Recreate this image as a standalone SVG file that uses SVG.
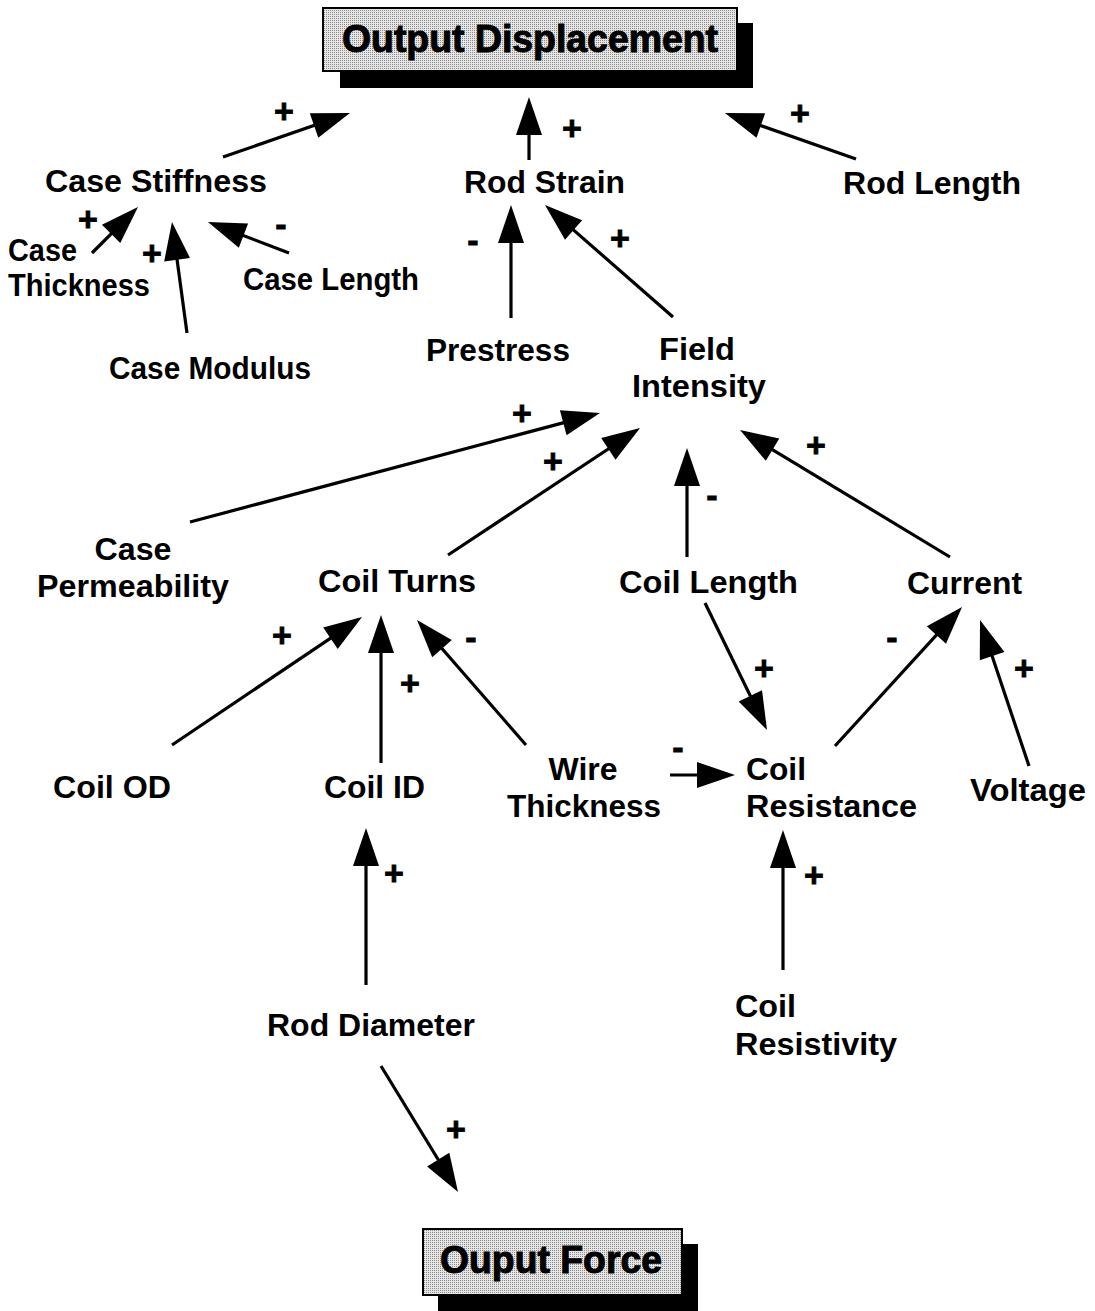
<svg xmlns="http://www.w3.org/2000/svg" width="1095" height="1311" viewBox="0 0 1095 1311">
<style>
.lbl{font-family:"Liberation Sans",Arial,sans-serif;font-weight:bold;font-size:31px;fill:#000}
.ttl{font-family:"Liberation Sans",Arial,sans-serif;font-weight:bold;font-size:38px;fill:#000;stroke:#000;stroke-width:1;text-anchor:middle}
.sg{font-family:"Liberation Sans",Arial,sans-serif;font-weight:bold;font-size:34px;fill:#000;stroke:#000;stroke-width:0.8;text-anchor:middle}
.c{text-anchor:middle}
.ln{stroke:#000;stroke-width:3.2;fill:none;marker-end:url(#ah)}
.box{fill:url(#ht);stroke:#000;stroke-width:2}
</style>
<defs>
<pattern id="ht" width="2" height="2" patternUnits="userSpaceOnUse">
<rect width="2" height="2" fill="#e6e6e6"/>
<rect width="1" height="1" fill="#8a8a8a"/>
</pattern>
<marker id="ah" markerUnits="userSpaceOnUse" markerWidth="38" markerHeight="26" refX="28" refY="13" orient="auto" overflow="visible">
<path d="M0,0 L38,13 L0,26 z" fill="#000"/>
</marker>
</defs>
<rect width="1095" height="1311" fill="#fff"/>

<g id="node-output-displacement">
<rect x="340" y="23" width="413" height="65" fill="#000"/>
<rect class="box" x="323" y="8" width="414" height="63"/>
<text class="ttl" x="530" y="52" textLength="376" lengthAdjust="spacingAndGlyphs">Output Displacement</text>
</g>
<g id="node-case-stiffness"><text class="lbl" x="45" y="192" textLength="222" lengthAdjust="spacingAndGlyphs">Case Stiffness</text></g>
<g id="node-rod-strain"><text class="lbl" x="464" y="193" textLength="161" lengthAdjust="spacingAndGlyphs">Rod Strain</text></g>
<g id="node-rod-length"><text class="lbl" x="843" y="194" textLength="178" lengthAdjust="spacingAndGlyphs">Rod Length</text></g>
<g id="node-case-thickness"><text class="lbl" x="8" y="261" textLength="69" lengthAdjust="spacingAndGlyphs">Case</text><text class="lbl" x="8" y="296" textLength="142" lengthAdjust="spacingAndGlyphs">Thickness</text></g>
<g id="node-case-length"><text class="lbl" x="243" y="290" textLength="176" lengthAdjust="spacingAndGlyphs">Case Length</text></g>
<g id="node-case-modulus"><text class="lbl" x="109" y="379" textLength="202" lengthAdjust="spacingAndGlyphs">Case Modulus</text></g>
<g id="node-prestress"><text class="lbl" x="426" y="361" textLength="144" lengthAdjust="spacingAndGlyphs">Prestress</text></g>
<g id="node-field-intensity"><text class="lbl c" x="697" y="360" textLength="76" lengthAdjust="spacingAndGlyphs">Field</text><text class="lbl c" x="699" y="397" textLength="134" lengthAdjust="spacingAndGlyphs">Intensity</text></g>
<g id="node-case-permeability"><text class="lbl c" x="133" y="560" textLength="77" lengthAdjust="spacingAndGlyphs">Case</text><text class="lbl c" x="133" y="597" textLength="192" lengthAdjust="spacingAndGlyphs">Permeability</text></g>
<g id="node-coil-turns"><text class="lbl" x="318" y="592" textLength="158" lengthAdjust="spacingAndGlyphs">Coil Turns</text></g>
<g id="node-coil-length"><text class="lbl" x="619" y="593" textLength="179" lengthAdjust="spacingAndGlyphs">Coil Length</text></g>
<g id="node-current"><text class="lbl" x="907" y="594" textLength="115" lengthAdjust="spacingAndGlyphs">Current</text></g>
<g id="node-coil-od"><text class="lbl" x="53" y="798" textLength="118" lengthAdjust="spacingAndGlyphs">Coil OD</text></g>
<g id="node-coil-id"><text class="lbl" x="324" y="798" textLength="101" lengthAdjust="spacingAndGlyphs">Coil ID</text></g>
<g id="node-wire-thickness"><text class="lbl c" x="583" y="780" textLength="69" lengthAdjust="spacingAndGlyphs">Wire</text><text class="lbl c" x="584" y="817" textLength="154" lengthAdjust="spacingAndGlyphs">Thickness</text></g>
<g id="node-coil-resistance"><text class="lbl" x="746" y="780" textLength="60" lengthAdjust="spacingAndGlyphs">Coil</text><text class="lbl" x="746" y="817" textLength="171" lengthAdjust="spacingAndGlyphs">Resistance</text></g>
<g id="node-voltage"><text class="lbl" x="970" y="801" textLength="116" lengthAdjust="spacingAndGlyphs">Voltage</text></g>
<g id="node-rod-diameter"><text class="lbl" x="267" y="1036" textLength="208" lengthAdjust="spacingAndGlyphs">Rod Diameter</text></g>
<g id="node-coil-resistivity"><text class="lbl" x="735" y="1017" textLength="61" lengthAdjust="spacingAndGlyphs">Coil</text><text class="lbl" x="735" y="1055" textLength="162" lengthAdjust="spacingAndGlyphs">Resistivity</text></g>
<g id="node-output-force">
<rect x="438" y="1244" width="260" height="67" fill="#000"/>
<rect class="box" x="423" y="1229" width="259" height="66"/>
<text class="ttl" x="551" y="1273" textLength="222" lengthAdjust="spacingAndGlyphs">Ouput Force</text>
</g>

<g id="connectors">
<line class="ln" x1="223" y1="157" x2="340.5" y2="116.3"/>
<line class="ln" x1="529" y1="160" x2="529" y2="107"/>
<line class="ln" x1="856" y1="159" x2="734.4" y2="116.3"/>
<line class="ln" x1="92" y1="253" x2="130.9" y2="214.1"/>
<line class="ln" x1="187" y1="333" x2="173.3" y2="231.9"/>
<line class="ln" x1="289" y1="253" x2="217.3" y2="225.6"/>
<line class="ln" x1="511" y1="318" x2="511" y2="215"/>
<line class="ln" x1="673" y1="317" x2="552.5" y2="211.6"/>
<line class="ln" x1="190" y1="522" x2="590.3" y2="415.6"/>
<line class="ln" x1="448" y1="555" x2="631.7" y2="433.5"/>
<line class="ln" x1="687" y1="557" x2="687" y2="458"/>
<line class="ln" x1="950" y1="557" x2="748.6" y2="435.2"/>
<line class="ln" x1="172" y1="745" x2="353.7" y2="622.6"/>
<line class="ln" x1="381" y1="763" x2="381" y2="625"/>
<line class="ln" x1="526" y1="745" x2="423.6" y2="627.5"/>
<line class="ln" x1="705" y1="603" x2="762.6" y2="721"/>
<line class="ln" x1="835" y1="746" x2="955.3" y2="614.4"/>
<line class="ln" x1="1029" y1="766" x2="983.2" y2="629.5"/>
<line class="ln" x1="670" y1="775" x2="725" y2="775"/>
<line class="ln" x1="366" y1="985" x2="366" y2="838"/>
<line class="ln" x1="783" y1="970" x2="783" y2="840"/>
<line class="ln" x1="381" y1="1066" x2="452.8" y2="1183.5"/>
<g id="signs">
<text class="sg" x="284" y="123">+</text>
<text class="sg" x="572" y="140">+</text>
<text class="sg" x="800" y="125">+</text>
<text class="sg" x="88" y="231">+</text>
<text class="sg" x="152" y="265">+</text>
<text class="sg" x="281" y="236">-</text>
<text class="sg" x="473" y="252">-</text>
<text class="sg" x="620" y="250">+</text>
<text class="sg" x="522" y="425">+</text>
<text class="sg" x="553" y="473">+</text>
<text class="sg" x="712" y="507">-</text>
<text class="sg" x="816" y="457">+</text>
<text class="sg" x="282" y="647">+</text>
<text class="sg" x="410" y="695">+</text>
<text class="sg" x="471" y="649">-</text>
<text class="sg" x="764" y="680">+</text>
<text class="sg" x="892" y="649">-</text>
<text class="sg" x="1024" y="680">+</text>
<text class="sg" x="678" y="759">-</text>
<text class="sg" x="394" y="885">+</text>
<text class="sg" x="814" y="887">+</text>
<text class="sg" x="456" y="1141">+</text>
</g>
</g>
</svg>
